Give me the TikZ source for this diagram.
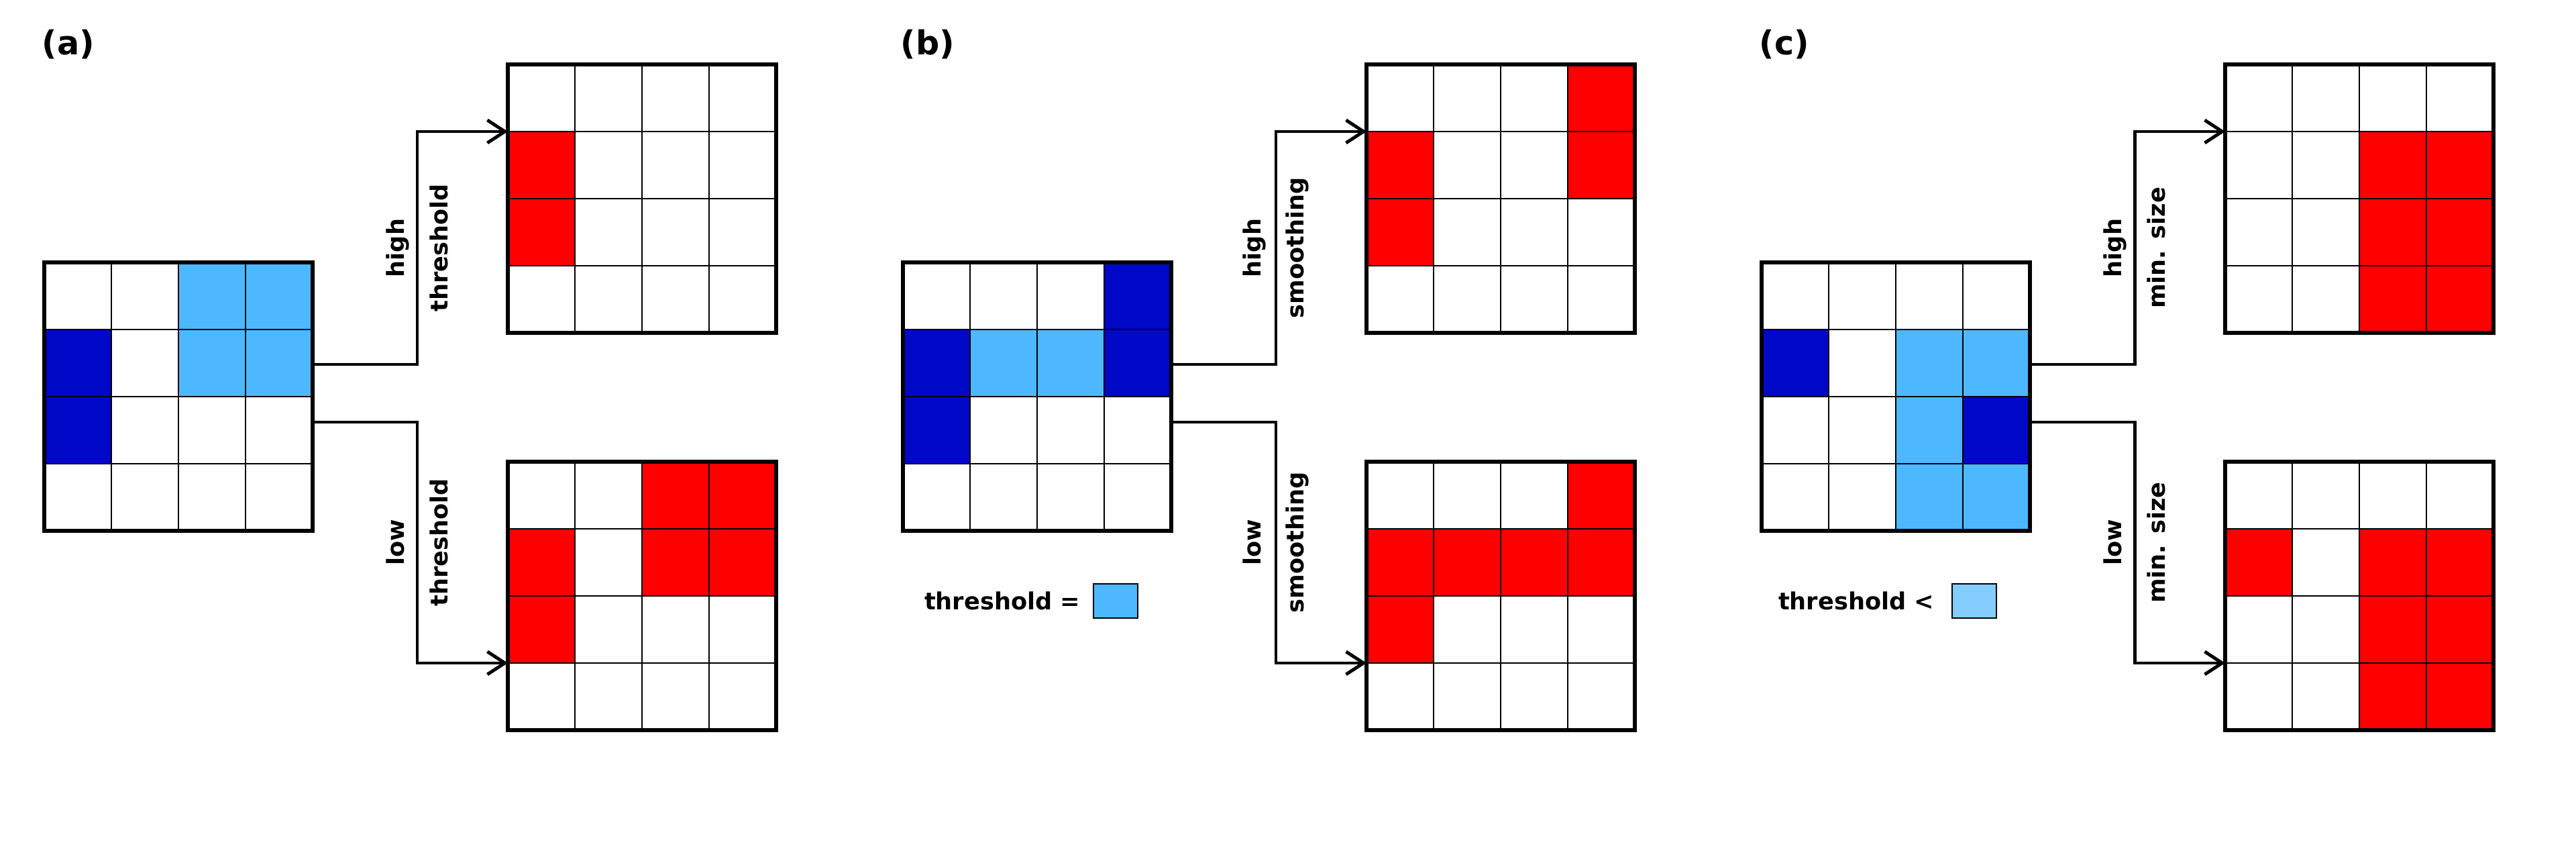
\documentclass[tikz,border=0pt]{standalone}
\usepackage{fontspec}
\setmainfont{DejaVu Sans}
\usepackage{tikz}
\usetikzlibrary{positioning,arrows.meta,calc}
\definecolor{celldark}{RGB}{0,8,200}
\definecolor{celllight}{RGB}{77,184,255}
\definecolor{cellpale}{RGB}{133,205,255}
\definecolor{cellred}{RGB}{255,0,0}

% cells, inner lines and frame of one 4x4 grid node
\newcommand{\drawgrid}[2]{%
  \foreach \cx/\ry/\cc in {#2}
    \fill[\cc] ($(#1.north west)+(\cx-1,1-\ry)$) rectangle ++(1,-1);
  \foreach \k in {1,2,3} {
    \draw[cellline] ($(#1.north west)+(\k,0)$) -- ($(#1.south west)+(\k,0)$);
    \draw[cellline] ($(#1.north west)+(0,-\k)$) -- ($(#1.north east)+(0,-\k)$);
  }
  \draw[frame] (#1.south west) rectangle (#1.north east);
}

\begin{document}
\begin{tikzpicture}[
    font=\bfseries\fontsize{10pt}{12pt}\selectfont,
    grid/.style={minimum width=4cm,minimum height=4cm,inner sep=0pt,outer sep=0pt},
    frame/.style={line width=1.7pt},
    cellline/.style={line width=0.6pt},
    flow/.style={-{Straight Barb[length=2.6mm,width=3.4mm]},line width=1.4pt},
    lbl/.style={rotate=90,align=center,inner sep=0pt},
    tag/.style={anchor=west,inner sep=0pt,font=\bfseries\fontsize{14pt}{17pt}\selectfont},
    swatch/.style={draw,line width=0.7pt,minimum width=0.66cm,minimum height=0.51cm,inner sep=0pt},
]
\useasboundingbox (0,0) rectangle (38.4,12.8);

% --- panel (a) ---
\node[tag] (atag) at (0.62,12.14) {(a)};
\node[grid] (ain) at (2.66,6.89) {};
\node[grid] (ahi) at (9.57,9.84) {};
\node[grid] (alo) at (9.57,3.92) {};
\drawgrid{ain}{3/1/celllight,4/1/celllight,1/2/celldark,3/2/celllight,4/2/celllight,1/3/celldark}
\drawgrid{ahi}{1/2/cellred,1/3/cellred}
\drawgrid{alo}{3/1/cellred,4/1/cellred,1/2/cellred,3/2/cellred,4/2/cellred,1/3/cellred}
\draw[flow] ($(ain.north east)+(0,-1.52)$) -- ++(1.56,0)
   |- node[lbl,pos=0.25] {high\\[6.4pt]threshold} ($(ahi.north west)+(0,-1)$);
\draw[flow] ($(ain.north east)+(0,-2.38)$) -- ++(1.56,0)
   |- node[lbl,pos=0.25] {low\\[6.4pt]threshold} ($(alo.south west)+(0,1)$);

% --- panel (b) ---
\begin{scope}[xshift=12.8cm]
\node[tag] (btag) at (0.62,12.14) {(b)};
\node[grid] (bin) at (2.66,6.89) {};
\node[grid] (bhi) at (9.57,9.84) {};
\node[grid] (blo) at (9.57,3.92) {};
\drawgrid{bin}{4/1/celldark,1/2/celldark,2/2/celllight,3/2/celllight,4/2/celldark,1/3/celldark}
\drawgrid{bhi}{4/1/cellred,1/2/cellred,4/2/cellred,1/3/cellred}
\drawgrid{blo}{4/1/cellred,1/2/cellred,2/2/cellred,3/2/cellred,4/2/cellred,1/3/cellred}
\draw[flow] ($(bin.north east)+(0,-1.52)$) -- ++(1.56,0)
   |- node[lbl,pos=0.25] {high\\[6.4pt]smoothing} ($(bhi.north west)+(0,-1)$);
\draw[flow] ($(bin.north east)+(0,-2.38)$) -- ++(1.56,0)
   |- node[lbl,pos=0.25] {low\\[6.4pt]smoothing} ($(blo.south west)+(0,1)$);
\node[swatch,fill=celllight] (bsw) at (3.83,3.845) {};
\node[inner sep=0pt,left=0.18cm of bsw] (bkey) {threshold =};
\end{scope}

% --- panel (c) ---
\begin{scope}[xshift=25.6cm]
\node[tag] (ctag) at (0.62,12.14) {(c)};
\node[grid] (cin) at (2.66,6.89) {};
\node[grid] (chi) at (9.57,9.84) {};
\node[grid] (clo) at (9.57,3.92) {};
\drawgrid{cin}{1/2/celldark,3/2/celllight,4/2/celllight,3/3/celllight,4/3/celldark,3/4/celllight,4/4/celllight}
\drawgrid{chi}{3/2/cellred,4/2/cellred,3/3/cellred,4/3/cellred,3/4/cellred,4/4/cellred}
\drawgrid{clo}{1/2/cellred,3/2/cellred,4/2/cellred,3/3/cellred,4/3/cellred,3/4/cellred,4/4/cellred}
\draw[flow] ($(cin.north east)+(0,-1.52)$) -- ++(1.56,0)
   |- node[lbl,pos=0.25] {high\\[6.4pt]min. size} ($(chi.north west)+(0,-1)$);
\draw[flow] ($(cin.north east)+(0,-2.38)$) -- ++(1.56,0)
   |- node[lbl,pos=0.25] {low\\[6.4pt]min. size} ($(clo.south west)+(0,1)$);
\node[swatch,fill=cellpale] (csw) at (3.83,3.845) {};
\node[inner sep=0pt,left=0.25cm of csw] (ckey) {threshold <};
\end{scope}
\end{tikzpicture}
\end{document}
